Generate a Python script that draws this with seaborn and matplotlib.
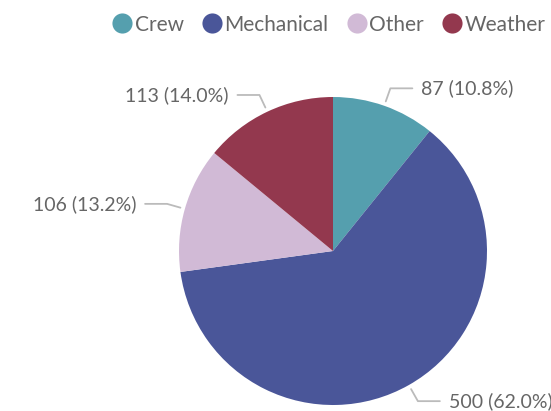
import numpy as np
import seaborn as sns
import matplotlib.pyplot as plt
from matplotlib.lines import Line2D

categories = ["Crew", "Mechanical", "Other", "Weather"]
counts = [87, 500, 106, 113]
colors = ["#559fae", "#4a5699", "#d1bad6", "#93384e"]

sns.set_theme(style="white")
plt.rcParams["font.family"] = ["Lato", "DejaVu Sans"]

fig = plt.figure(figsize=(5.51, 4.11), dpi=100)
ax = fig.add_axes([0, 0, 1, 1])

wedges, _ = ax.pie(counts, colors=colors, startangle=90, counterclock=False,
                   radius=1.0, wedgeprops=dict(linewidth=0))

# pie centre at pixel (333, 251), radius 154 px
R = 154.0
cx, cy = 333.0, 251.0
ax.set_xlim(-cx / R, (551 - cx) / R)
ax.set_ylim(-(411 - cy) / R, cy / R)
ax.set_aspect("equal")
ax.axis("off")

total = sum(counts)
txt_col = "#666666"
line_col = "#bbbbbb"
for w, c in zip(wedges, counts):
    ang = np.deg2rad((w.theta1 + w.theta2) / 2)
    dx, dy = np.cos(ang), np.sin(ang)
    x0, y0 = 1.03 * dx, 1.03 * dy
    x1, y1 = 1.12 * dx, 1.12 * dy
    side = 1 if dx >= 0 else -1
    x2 = x1 + side * 22 / R
    ax.plot([x0, x1, x2], [y0, y1, y1], color=line_col, lw=1.3, clip_on=False)
    ax.text(x2 + side * 9 / R, y1, f"{c} ({c / total * 100:.1f}%)",
            ha="left" if side > 0 else "right", va="center",
            fontsize=14, color=txt_col)

handles = [Line2D([], [], marker="o", linestyle="", markersize=14.5,
                  markerfacecolor=col, markeredgewidth=0) for col in colors]
leg = fig.legend(handles, categories, loc="upper right", ncol=4,
                 bbox_to_anchor=(1.0 + 9 / 551, 1.0), frameon=False, fontsize=15,
                 handletextpad=0.1, columnspacing=0.85, handlelength=1.0,
                 borderaxespad=0.3)
for t in leg.get_texts():
    t.set_color(txt_col)

fig.savefig("out.png", dpi=100)
